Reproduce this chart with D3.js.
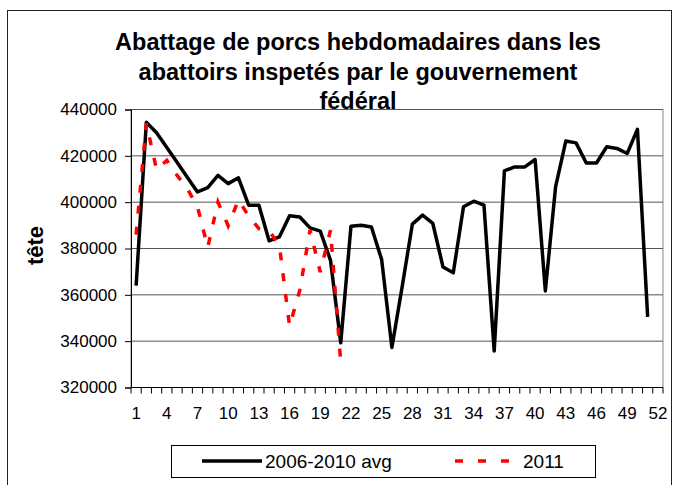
<!DOCTYPE html>
<html>
<head>
<meta charset="utf-8">
<script src="https://cdn.jsdelivr.net/npm/d3@7"></script>
<style>
    html, body { margin: 0; padding: 0; background: #fff; }
    svg { display: block; font-family: "Liberation Sans", Arial, sans-serif; }
</style>
</head>
<body>
<div id="chart"></div>
<script>
// ── Weekly hog slaughter chart ──

const titleLines = [
    'Abattage de porcs hebdomadaires dans les',
    'abattoirs inspetés par le gouvernement',
    'fédéral'
];
const yTicks = [320000, 340000, 360000, 380000, 400000, 420000, 440000];
const xLabels = d3.range(1, 53, 3);

// 2006-2010 avg (weeks 1..51)
const avg0610 = [
    364000, 434500, 430000, 423600, 417200, 410800, 404400, 406300, 411600, 408000,
    410500, 398700, 398700, 383300, 385000, 394100, 393600, 388900, 387500, 374900,
    339300, 389600, 390000, 389300, 375200, 337300, 363400, 390500, 394400, 390800,
    372000, 369500, 398000, 400400, 398700, 335800, 413500, 415200, 415200, 418400,
    361700, 406600, 426400, 425600, 416900, 416900, 423900, 423200, 421000, 431400,
    350500
];
// 2011 (weeks 1..21)
const y2011 = [
    386000, 434000, 414000, 418000, 411600, 405900, 398000, 380500, 400000, 389800,
    401000, 394000, 388600, 387500, 381500, 346500, 362000, 388000, 369800, 387900,
    331000
];

const W = 675, H = 485;
const plot = { left: 131, right: 663, top: 109.5, bottom: 387.5 };

const svg = d3.select('#chart')
    .append('svg')
    .attr('width', W)
    .attr('height', H);

// Chart area frame
svg.append('rect')
    .attr('x', 7.5).attr('y', 10.5)
    .attr('width', 664).attr('height', 490)
    .attr('fill', '#fff')
    .attr('stroke', '#222')
    .attr('stroke-width', 1);

// Title (plot area is drawn over its last line, as in the original)
svg.append('g')
    .selectAll('text')
    .data(titleLines)
    .join('text')
    .attr('x', 358)
    .attr('y', (d, i) => 50 + i * 29.5)
    .attr('text-anchor', 'middle')
    .attr('font-size', 23.5)
    .attr('font-weight', 'bold')
    .text(d => d);

const x = d3.scaleLinear().domain([0.5, 52.5]).range([plot.left, plot.right]);
const y = d3.scaleLinear().domain([320000, 440000]).range([plot.bottom, plot.top]);

// Plot area
svg.append('rect')
    .attr('x', plot.left).attr('y', plot.top)
    .attr('width', plot.right - plot.left)
    .attr('height', plot.bottom - plot.top)
    .attr('fill', '#fff')
    .attr('stroke', '#888')
    .attr('stroke-width', 1);

// Gridlines
svg.append('g')
    .selectAll('line')
    .data(yTicks.slice(1))
    .join('line')
    .attr('x1', plot.left).attr('x2', plot.right)
    .attr('y1', d => y(d)).attr('y2', d => y(d))
    .attr('stroke', '#555')
    .attr('stroke-width', 1);

// Y axis
const yAxis = svg.append('g')
    .attr('transform', `translate(${plot.left},0)`)
    .call(d3.axisLeft(y).tickValues(yTicks).tickSize(6).tickPadding(8).tickFormat(d3.format('d')));
yAxis.select('.domain').attr('stroke', '#000');
yAxis.selectAll('.tick line').attr('stroke', '#000');
yAxis.selectAll('.tick text')
    .attr('font-size', 17)
    .attr('font-family', '"Liberation Sans", Arial, sans-serif')
    .attr('fill', '#000');

// X axis (category axis: ticks between categories)
const xg = svg.append('g').attr('transform', `translate(0,${plot.bottom})`);
xg.append('line')
    .attr('x1', plot.left).attr('x2', plot.right)
    .attr('stroke', '#000');
xg.selectAll('line.tk')
    .data(d3.range(0, 53))
    .join('line')
    .attr('class', 'tk')
    .attr('x1', d => x(d + 0.5)).attr('x2', d => x(d + 0.5))
    .attr('y1', 0).attr('y2', 6)
    .attr('stroke', '#000');
xg.selectAll('text')
    .data(xLabels)
    .join('text')
    .attr('x', d => x(d))
    .attr('y', 31)
    .attr('text-anchor', 'middle')
    .attr('font-size', 17)
    .text(d => d);

// Y axis title
svg.append('text')
    .attr('transform', `translate(43,${(plot.top + plot.bottom) / 2 - 3}) rotate(-90)`)
    .attr('text-anchor', 'middle')
    .attr('font-size', 22)
    .attr('font-weight', 'bold')
    .text('tête');

// Lines
const line = d3.line()
    .x((d, i) => x(i + 1))
    .y(d => y(d));

svg.append('path')
    .datum(avg0610)
    .attr('d', line)
    .attr('fill', 'none')
    .attr('stroke', '#000')
    .attr('stroke-width', 3.5)
    .attr('stroke-linejoin', 'round');

svg.append('path')
    .datum(y2011)
    .attr('d', line)
    .attr('fill', 'none')
    .attr('stroke', '#ff0000')
    .attr('stroke-width', 3.5)
    .attr('stroke-dasharray', '8,13');

// Legend
const lg = svg.append('g');
lg.append('rect')
    .attr('x', 171.5).attr('y', 445.5)
    .attr('width', 424).attr('height', 32)
    .attr('fill', '#fff')
    .attr('stroke', '#000');
lg.append('line')
    .attr('x1', 202).attr('x2', 262)
    .attr('y1', 461).attr('y2', 461)
    .attr('stroke', '#000').attr('stroke-width', 3.5);
lg.append('text')
    .attr('x', 265).attr('y', 468)
    .attr('font-size', 19)
    .text('2006-2010 avg');
lg.append('line')
    .attr('x1', 455).attr('x2', 510)
    .attr('y1', 461).attr('y2', 461)
    .attr('stroke', '#ff0000').attr('stroke-width', 3.5)
    .attr('stroke-dasharray', '8,15');
lg.append('text')
    .attr('x', 523).attr('y', 468)
    .attr('font-size', 19)
    .text('2011');
</script>
</body>
</html>
